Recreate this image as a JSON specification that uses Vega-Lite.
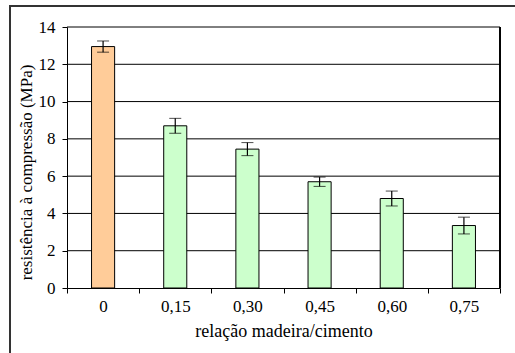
{
  "$schema": "https://vega.github.io/schema/vega-lite/v6.json",
  "width": 505,
  "height": 347,
  "autosize": {"type": "none"},
  "padding": {"left": 10, "top": 6, "right": 0, "bottom": 0},
  "config": {
    "font": "Liberation Serif",
    "view": {"stroke": "#333333", "strokeWidth": 2, "strokeDash": [505, 852, 347]},
    "axis": {
      "domainColor": "#000000",
      "domainWidth": 1,
      "tickColor": "#000000",
      "tickWidth": 1,
      "tickSize": 5,
      "labelColor": "#000000",
      "labelFontSize": 17,
      "titleColor": "#000000",
      "titleFontSize": 18,
      "titleFontWeight": "normal"
    }
  },
  "datasets": {
    "ensaios": [
      {"relacao": "0", "resistencia": 12.95, "erro": 0.3, "grupo": "referência"},
      {"relacao": "0,15", "resistencia": 8.7, "erro": 0.4, "grupo": "madeira"},
      {"relacao": "0,30", "resistencia": 7.45, "erro": 0.35, "grupo": "madeira"},
      {"relacao": "0,45", "resistencia": 5.7, "erro": 0.25, "grupo": "madeira"},
      {"relacao": "0,60", "resistencia": 4.8, "erro": 0.4, "grupo": "madeira"},
      {"relacao": "0,75", "resistencia": 3.35, "erro": 0.45, "grupo": "madeira"}
    ],
    "grade": [
      {"nivel": 2}, {"nivel": 4}, {"nivel": 6}, {"nivel": 8},
      {"nivel": 10}, {"nivel": 12}, {"nivel": 14}
    ]
  },
  "data": {"name": "ensaios"},
  "layer": [
    {
      "data": {"name": "grade"},
      "mark": {"type": "rule", "color": "#000000", "strokeWidth": 1},
      "encoding": {
        "x": {"datum": "0", "type": "nominal", "bandPosition": 0},
        "x2": {"datum": "0,75", "bandPosition": 1},
        "y": {"field": "nivel", "type": "quantitative"}
      }
    },
    {
      "mark": {"type": "rule", "color": "#000000", "strokeWidth": 1},
      "encoding": {
        "x": {"datum": "0,75", "type": "nominal", "bandPosition": 1},
        "y": {"datum": 0, "type": "quantitative"},
        "y2": {"datum": 14}
      }
    },
    {
      "mark": {"type": "bar", "width": {"band": 0.32}, "stroke": "#000000", "strokeWidth": 1},
      "encoding": {
        "x": {"field": "relacao", "type": "nominal"},
        "y": {"field": "resistencia", "type": "quantitative"},
        "fill": {
          "field": "grupo",
          "type": "nominal",
          "scale": {"domain": ["referência", "madeira"], "range": ["#FFCC99", "#CCFFCC"]},
          "legend": null
        }
      }
    },
    {
      "mark": {"type": "errorbar", "ticks": {"size": 12, "color": "#000000", "strokeWidth": 1.2}, "rule": {"color": "#000000", "strokeWidth": 1.2}},
      "encoding": {
        "x": {"field": "relacao", "type": "nominal"},
        "y": {"field": "resistencia", "type": "quantitative"},
        "yError": {"field": "erro"}
      }
    }
  ],
  "encoding": {
    "x": {
      "field": "relacao",
      "type": "nominal",
      "sort": ["0", "0,15", "0,30", "0,45", "0,60", "0,75"],
      "scale": {"domain": ["0", "0,15", "0,30", "0,45", "0,60", "0,75"], "range": [57, 490], "paddingInner": 0, "paddingOuter": 0},
      "axis": {
        "orient": "bottom",
        "offset": -65,
        "labelAngle": 0,
        "labelFont": "Liberation Serif",
        "titleFont": "Liberation Serif",
        "tickBand": "extent",
        "labelPadding": 5,
        "title": "relação madeira/cimento",
        "titlePadding": 8
      }
    },
    "y": {
      "field": "resistencia",
      "type": "quantitative",
      "scale": {"domain": [0, 14], "range": [282, 21], "nice": false, "zero": true},
      "axis": {
        "orient": "left",
        "offset": -57,
        "values": [0, 2, 4, 6, 8, 10, 12, 14],
        "grid": false,
        "labelFont": "Liberation Serif",
        "titleFont": "Liberation Serif",
        "titleFontSize": 17,
        "labelPadding": 7,
        "title": "resistência  à compressão (MPa)",
        "titlePadding": 3,
        "titleY": 166
      }
    }
  }
}
